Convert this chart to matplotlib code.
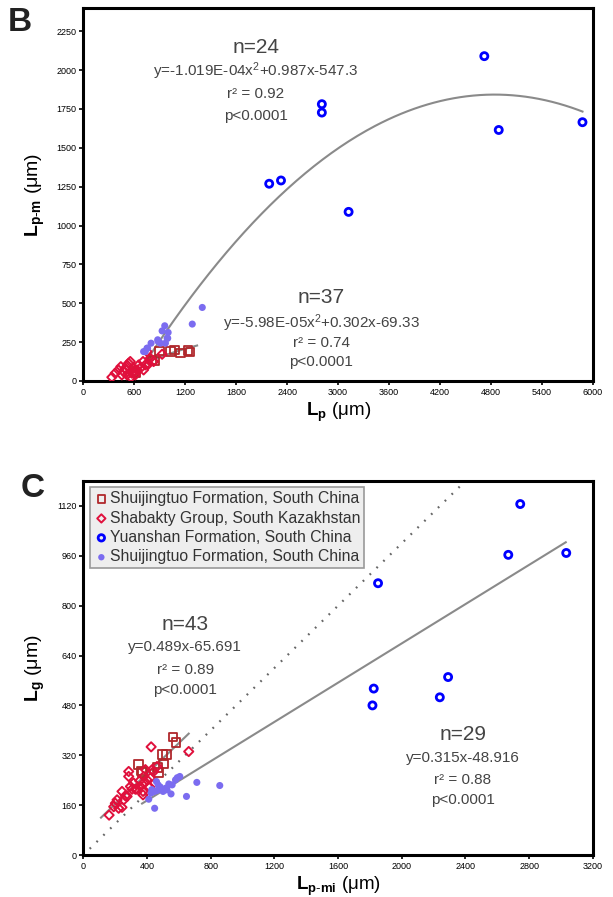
import numpy as np
import matplotlib
matplotlib.use('Agg')
import matplotlib.pyplot as plt

plt.rcParams['font.family'] = ['Liberation Sans', 'DejaVu Sans']
plt.rcParams['mathtext.fontset'] = 'custom'
plt.rcParams['mathtext.rm'] = 'Liberation Sans'
plt.rcParams['mathtext.bf'] = 'Liberation Sans:bold'
plt.rcParams['mathtext.it'] = 'Liberation Sans:italic'

# ---------------- Panel B data (Lp vs Lp-m) ----------------
b_sq_x = [592, 612, 809, 840, 900, 1026, 1073, 1144, 1231, 1254]
b_sq_y = [60, 50, 135, 129, 194, 189, 200, 179, 196, 185]

b_dia_x = [336, 375, 414, 442, 454, 473, 494, 514, 533, 553, 561, 573, 592, 612,
           632, 651, 671, 703, 710, 730, 750, 769, 789, 828, 928, 520, 600]
b_dia_y = [24, 50, 71, 92, 39, 60, 82, 39, 114, 125, 24, 50, 82, 39,
           71, 103, 82, 125, 71, 103, 189, 110, 146, 125, 172, 100, 65]

b_yuan_x = [2189, 2328, 2809, 2809, 3124, 4722, 4892, 5878]
b_yuan_y = [1269, 1290, 1781, 1727, 1088, 2090, 1615, 1665]

b_shui_x = [1401, 1283, 959, 928, 999, 987, 876, 908, 967, 798, 750, 730, 994, 880,
            757, 710]
b_shui_y = [473, 366, 355, 322, 312, 275, 265, 243, 243, 243, 211, 189, 275, 255,
            211, 189]

# quadratic fits (a, b, c) and drawn x-range
b_fit1 = (-1.019e-4, 0.987, -547.3)
b_fit1_range = (760, 5878)
b_fit2 = (-5.98e-5, 0.302, -69.33)
b_fit2_range = (800, 1340)

# ---------------- Panel C data (Lp-mi vs Lg) ----------------
c_sq_x = [564, 583, 499, 522, 505, 467, 472, 348, 365, 373]
c_sq_y = [379, 361, 322, 322, 292, 281, 265, 290, 270, 265]

c_dia_x = [162, 426, 662, 285, 243, 212, 201, 191, 222, 243, 254, 275, 296, 316, 338,
           358, 379, 400, 379, 421, 411, 375, 375, 442, 463, 432, 417, 285, 327, 264,
           306, 354, 390]
c_dia_y = [128, 347, 332, 252, 204, 177, 166, 155, 150, 153, 177, 188, 220, 231, 211,
           220, 231, 241, 252, 247, 218, 204, 193, 268, 284, 274, 218, 268, 211, 190,
           211, 238, 274]

c_yuan_x = [2744, 2669, 3033, 1851, 1824, 1816, 2239, 2291]
c_yuan_y = [1126, 963, 969, 872, 534, 480, 506, 571]

c_shui_x = [606, 579, 537, 713, 857, 459, 484, 463, 501, 526, 551, 447, 411, 648,
            448, 426, 558, 590, 520, 470, 430]
c_shui_y = [252, 241, 228, 233, 223, 236, 218, 207, 204, 209, 196, 204, 179, 188,
            150, 199, 225, 248, 215, 225, 210]

# linear fits as drawn (slope, intercept) and x-range
c_fit1 = (0.489, 65.691)
c_fit1_range = (111, 662)
c_fit2 = (0.315, 48.916)
c_fit2_range = (369, 3030)
c_ref_slope = 0.5

SQ_COL = '#b0282c'
DIA_COL = '#e0103c'
YUAN_COL = '#0000ff'
SHUI_COL = '#7b6cf0'
FIT_COL = '#8a8a8a'
TXT_COL = '#444444'
EQ_FS = 11
N_FS = 15


def style_axes(ax):
    for s in ax.spines.values():
        s.set_linewidth(2.2)
    ax.tick_params(direction='out', length=3, width=1.2, labelsize=6.5, pad=2)


def draw_points(ax, sq, dia, yuan, shui):
    ax.scatter(*sq, marker='s', s=38, facecolors='none', edgecolors=SQ_COL,
               linewidths=1.3, zorder=3, label='Shuijingtuo Formation, South China')
    ax.scatter(*dia, marker='D', s=22, facecolors='none', edgecolors=DIA_COL,
               linewidths=1.4, zorder=3, label='Shabakty Group, South Kazakhstan')
    ax.scatter(*yuan, marker='o', s=26, facecolors='none', edgecolors=YUAN_COL,
               linewidths=2.0, zorder=3, label='Yuanshan Formation, South China')
    ax.scatter(*shui, marker='o', s=26, color=SHUI_COL, edgecolors='none',
               zorder=3, label='Shuijingtuo Formation, South China')


def stat_block(ax, x, ys, lines):
    for y, txt, fs in zip(ys, lines, [N_FS, EQ_FS, EQ_FS, EQ_FS]):
        ax.text(x, y, txt, ha='center', va='center', fontsize=fs, color=TXT_COL)


fig = plt.figure(figsize=(6.13, 8.97), dpi=100)

# ---------------- Panel B ----------------
axB = fig.add_axes([0.1359, 0.5753, 0.8312, 0.4158])
draw_points(axB, (b_sq_x, b_sq_y), (b_dia_x, b_dia_y),
            (b_yuan_x, b_yuan_y), (b_shui_x, b_shui_y))
for fit, rng in [(b_fit1, b_fit1_range), (b_fit2, b_fit2_range)]:
    xx = np.linspace(rng[0], rng[1], 200)
    axB.plot(xx, np.polyval(fit, xx), color=FIT_COL, lw=1.5, zorder=2)
axB.set_xlim(0, 6000)
axB.set_ylim(0, 2400)
axB.set_xticks(np.arange(0, 6001, 600))
axB.set_yticks(np.arange(0, 2251, 250))
style_axes(axB)
axB.set_xlabel(r'$\mathbf{L}_{\mathbf{p}}$ (μm)', fontsize=13.5, labelpad=3)
axB.set_ylabel(r'$\mathbf{L}_{\mathbf{p\text{-}m}}$ (μm)', fontsize=14, labelpad=7)

stat_block(axB, 2032, [2148, 1994, 1845, 1703],
           ['n=24', r'y=-1.019E-04x$^{2}$+0.987x-547.3', 'r² = 0.92', 'p<0.0001'])
stat_block(axB, 2801, [535, 374, 245, 123],
           ['n=37', r'y=-5.98E-05x$^{2}$+0.302x-69.33', 'r² = 0.74', 'p<0.0001'])

fig.text(0.013, 0.975, 'B', fontsize=24, fontweight='bold', color='#222222',
         ha='left', va='center')

# ---------------- Panel C ----------------
axC = fig.add_axes([0.1359, 0.0468, 0.8312, 0.4170])
draw_points(axC, (c_sq_x, c_sq_y), (c_dia_x, c_dia_y),
            (c_yuan_x, c_yuan_y), (c_shui_x, c_shui_y))
for (m, c), rng in [(c_fit1, c_fit1_range), (c_fit2, c_fit2_range)]:
    xx = np.array(rng)
    axC.plot(xx, m * xx + c, color=FIT_COL, lw=1.5, zorder=2)
xx = np.array([40, 2600])
axC.plot(xx, c_ref_slope * xx, color='#666666', lw=1.6, ls=(0, (0.8, 3.5)), zorder=1)
axC.set_xlim(0, 3200)
axC.set_ylim(0, 1200)
axC.set_xticks(np.arange(0, 3201, 400))
axC.set_yticks(np.arange(0, 1121, 160))
style_axes(axC)
axC.set_xlabel(r'$\mathbf{L}_{\mathbf{p\text{-}mi}}$ (μm)', fontsize=13.5, labelpad=3)
axC.set_ylabel(r'$\mathbf{L}_{\mathbf{g}}$ (μm)', fontsize=14, labelpad=7)

stat_block(axC, 641, [740, 666, 595, 528],
           ['n=43', 'y=0.489x-65.691', 'r² = 0.89', 'p<0.0001'])
stat_block(axC, 2385, [386, 311, 241, 177],
           ['n=29', 'y=0.315x-48.916', 'r² = 0.88', 'p<0.0001'])

leg = axC.legend(loc='upper left', fontsize=11.3, frameon=True, fancybox=False,
                 borderaxespad=0.4, handletextpad=0.05, handlelength=1.0,
                 borderpad=0.25, labelspacing=0.28, markerscale=0.9)
leg.get_frame().set_facecolor('#eeeeee')
leg.get_frame().set_edgecolor('#999999')
leg.get_frame().set_linewidth(1.2)
leg.get_frame().set_alpha(1)
for t in leg.get_texts():
    t.set_color('#333333')

fig.text(0.033, 0.455, 'C', fontsize=24, fontweight='bold', color='#222222',
         ha='left', va='center')

fig.savefig('out.png', dpi=100)
